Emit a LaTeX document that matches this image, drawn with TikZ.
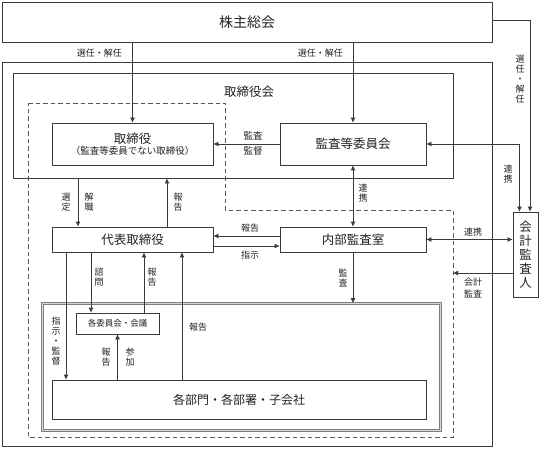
\documentclass[tikz,border=0pt]{standalone}
\usepackage{fontspec}
\newfontfamily\cjk{Noto Sans CJK JP}
\usetikzlibrary{arrows.meta}
\definecolor{ln}{HTML}{3A3A3A}
\definecolor{tx}{HTML}{222222}
\begin{document}
\begin{tikzpicture}[x=1pt,y=-1pt,
  every node/.style={font=\cjk, text=tx},
  box/.style={draw=ln, line width=0.8pt, rectangle, inner sep=0pt, anchor=center},
  con/.style={draw=ln, line width=0.8pt},
  arr/.style={con, -{Latex[length=5pt,width=5pt]}},
  arrb/.style={con, {Latex[length=5pt,width=5pt]}-{Latex[length=5pt,width=5pt]}},
  lab/.style={font=\cjk\fontsize{9}{10}\selectfont, inner sep=0pt, align=center},
  big/.style={font=\cjk\fontsize{12.5}{14}\selectfont}
]
\useasboundingbox (0,0) rectangle (540,449);
\fill[white] (0,0) rectangle (540,449);

% containers
\node[box, minimum width=490pt, minimum height=40pt, font=\cjk\fontsize{14}{16}\selectfont] (kabu) at (247,22) {株主総会};
\node[box, minimum width=490pt, minimum height=384pt] (outer) at (247,254) {};
\node[box, minimum width=440pt, minimum height=105pt] (board) at (233,125.5) {};
\node[big, inner sep=0pt] (boardlab) at (249,92) {取締役会};
\draw[con, draw=ln!85, dash pattern=on 4.5pt off 3pt] (28,103) -- (225,103) -- (225,210) -- (453,210) -- (453,437) -- (28,437) -- cycle;
\coordinate (dse) at (453,437);
\node[box, draw=ln!65, double=ln!20, double distance=1.3pt, line width=0.7pt, minimum width=398pt, minimum height=127pt] (dbl) at (241.5,367) {};

% boxes
\node[box, minimum width=161pt, minimum height=42pt, align=center] (tori) at (132.5,144)
  {{\fontsize{12.5}{13}\selectfont 取締役}\\[-1pt]{\fontsize{9.5}{11}\selectfont （監査等委員でない取締役）}};
\node[box, big, minimum width=146pt, minimum height=42pt] (kansa) at (353,144) {監査等委員会};
\node[box, big, minimum width=161pt, minimum height=25pt] (daihyo) at (132.5,239.5) {代表取締役};
\node[box, big, minimum width=146pt, minimum height=25pt] (naibu) at (353,239.5) {内部監査室};
\node[box, minimum width=25pt, minimum height=85pt, align=center, font=\cjk\fontsize{12.5}{14}\selectfont] (kaikei) at (525.5,254.5) {会\\計\\監\\査\\人};
\node[box, minimum width=83pt, minimum height=21pt, font=\cjk\fontsize{8.5}{10}\selectfont] (iinkai) at (117.5,323.5) {各委員会・会議};
\node[box, minimum width=374pt, minimum height=39pt, font=\cjk\fontsize{12}{14}\selectfont] (bumon) at (239,399.5) {各部門・各部署・子会社};

% connectors
\draw[arr] (kabu.south -| tori.north) -- (tori.north);
\draw[arr] (kabu.south -| kansa.north) -- (kansa.north);
\draw[arr] ([yshift=2pt]kabu.east) -| ([xshift=4.5pt]kaikei.north);
\draw[arr] (kansa.west) -- (tori.east);
\draw[arrb] (kansa.east) -| ([xshift=-6pt]kaikei.north);
\draw[arrb] (kansa.south) -- (naibu.north);
\draw[arr] ([xshift=-54.5pt]daihyo.north |- board.south) -- ([xshift=-54.5pt]daihyo.north);
\draw[arr] ([xshift=34.5pt]daihyo.north) -- ([xshift=34.5pt]daihyo.north |- board.south);
\draw[arr] ([yshift=3.5pt]naibu.west) -- ([yshift=3.5pt]naibu.west -| daihyo.east);
\draw[arr] ([yshift=-6.5pt]daihyo.east) -- ([yshift=-6.5pt]daihyo.east -| naibu.west);
\draw[arrb] (naibu.east) -- (naibu.east -| kaikei.west);
\draw[arr] ([yshift=-18.5pt]kaikei.west) -- ([yshift=-18.5pt]kaikei.west -| dse);
\draw[arr] (naibu.south) -- (naibu.south |- dbl.north);
\draw[arr] ([xshift=-41.5pt]daihyo.south) -- ([xshift=-41.5pt]daihyo.south |- iinkai.north);
\draw[arr] ([xshift=11.5pt]daihyo.south |- iinkai.north) -- ([xshift=11.5pt]daihyo.south);
\draw[arr] ([xshift=-66.5pt]daihyo.south) -- ([xshift=-66.5pt]daihyo.south |- bumon.north);
\draw[arr] ([xshift=49.5pt]daihyo.south |- bumon.north) -- ([xshift=49.5pt]daihyo.south);
\draw[arr] (iinkai.south |- bumon.north) -- (iinkai.south);

% labels
\node[lab, anchor=east] (l1) at (122,53) {選任・解任};
\node[lab, anchor=east] (l2) at (343,53) {選任・解任};
\node[lab] (l3) at (520,79) {選\\任\\・\\解\\任};
\node[lab, font=\cjk\fontsize{9.5}{15}\selectfont] (l4) at (253,143.5) {監査\\監督};
\node[lab] (l5) at (66,202) {選\\定};
\node[lab] (l6) at (89,202) {解\\職};
\node[lab] (l7) at (178,202) {報\\告};
\node[lab] (l8) at (363,193) {連\\携};
\node[lab] (l9) at (508,174) {連\\携};
\node[lab] (l10) at (250,228) {報告};
\node[lab] (l11) at (250,255) {指示};
\node[lab] (l12) at (473,232) {連携};
\node[lab, font=\cjk\fontsize{9}{12}\selectfont] (l13) at (473,288) {会計\\監査};
\node[lab] (l14) at (343,278) {監\\査};
\node[lab] (l15) at (99,277) {諮\\問};
\node[lab] (l16) at (152,277) {報\\告};
\node[lab] (l17) at (56,341) {指\\示\\・\\監\\督};
\node[lab] (l18) at (198,327) {報告};
\node[lab] (l19) at (106,357) {報\\告};
\node[lab] (l20) at (130,357) {参\\加};
\end{tikzpicture}
\end{document}
